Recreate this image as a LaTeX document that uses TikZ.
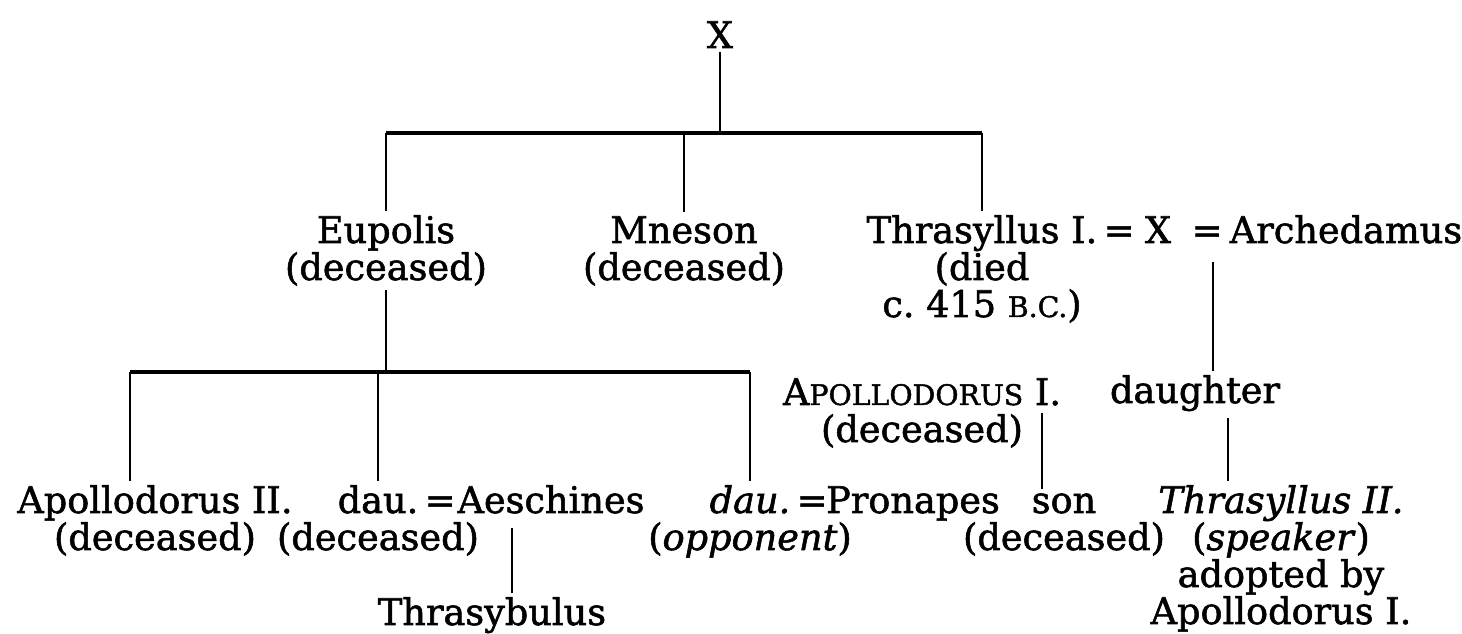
\documentclass[tikz,border=0pt]{standalone}
\usepackage{fontspec}
\setmainfont{DejaVu Serif}[FakeBold=1.5]
\newcommand{\lowcaps}[1]{{\fontsize{8.5}{11.1}\selectfont #1}}

\begin{document}
\begin{tikzpicture}[x=0.3pt,y=-0.3pt,line join=miter]
	% a node stands on the baseline of its last line
	\tikzstyle{person}=[align=center,anchor=base,inner sep=1pt,font=\fontsize{11}{11.1}\selectfont];
	\tikzstyle{kin}=[line width=0.85pt];
	\tikzstyle{bus}=[line width=1.4pt];

	\useasboundingbox (0,0) rectangle (1462,634);

	% head of the family
	\node[person] (x_top) at (720,48) {X};

	% his children
	\node[person] (eupolis) at (386,280) {Eupolis\\(deceased)};
	\node[person] (mneson) at (684,280) {Mneson\\(deceased)};
	\node[person] (thr_one) at (982,317) {Thrasyllus I.\\(died\\c.~415 \lowcaps{B.C.})};
	\node[person] (eq_a) at (1119,243) {=};
	\node[person] (x_wife) at (1158,243) {X};
	\node[person] (eq_b) at (1207,243) {=};
	\node[person] (arch) at (1346,243) {Archedamus};

	\coordinate (bus_a) at (720,133);
	\draw[kin] (x_top) -- (bus_a);
	\draw[bus] (eupolis |- bus_a) -- (thr_one |- bus_a);
	\draw[kin] (eupolis |- bus_a) -- (eupolis);
	\draw[kin] (mneson |- bus_a) -- (mneson);
	\draw[kin] (thr_one |- bus_a) -- (thr_one);

	% grandchildren through Eupolis
	\node[person] (apo_two) at (155,550) {Apollodorus II.\\(deceased)};
	\node[person] (dau_a) at (378,550) {dau.\\(deceased)};
	\node[person] (eq_c) at (440,513) {=};
	\node[person] (aesch) at (551,513) {Aeschines};
	\node[person] (dau_b) at (750,550) {\textit{dau.}\\(\textit{opponent})};
	\node[person] (eq_d) at (812,513) {=};
	\node[person] (pron) at (913,513) {Pronapes};
	\node[person] (thrasyb) at (492,625) {Thrasybulus};

	\coordinate (bus_b) at (391,372);
	\coordinate (drop_apo) at (130,372);
	\draw[kin] (eupolis) -- (eupolis |- bus_b);
	\draw[bus] (drop_apo) -- (dau_b |- bus_b);
	\draw[kin] (drop_apo) -- (drop_apo |- apo_two.north);
	\draw[kin] (dau_a |- bus_b) -- (dau_a);
	\draw[kin] (dau_b |- bus_b) -- (dau_b);

	\coordinate (link_tb) at (512,528);
	\draw[kin] (link_tb) -- (link_tb |- thrasyb.north);

	% the line of Archedamus
	\node[person] (apo_one) at (922,442) {A\lowcaps{POLLODORUS} I.\\(deceased)};
	\node[person] (daughter) at (1195,403) {daughter};
	\node[person] (son) at (1064,550) {son\\(deceased)};
	\node[person] (thr_two) at (1281,624) {\textit{Thrasyllus II.}\\(\textit{speaker})\\adopted by\\Apollodorus I.};

	\coordinate (link_dau) at (1213,262);
	\draw[kin] (link_dau) -- (link_dau |- daughter.north);
	\coordinate (link_son) at (1042,413);
	\draw[kin] (link_son) -- (link_son |- son.north);
	\coordinate (link_thr) at (1228,418);
	\draw[kin] (link_thr) -- (link_thr |- thr_two.north);
\end{tikzpicture}
\end{document}
